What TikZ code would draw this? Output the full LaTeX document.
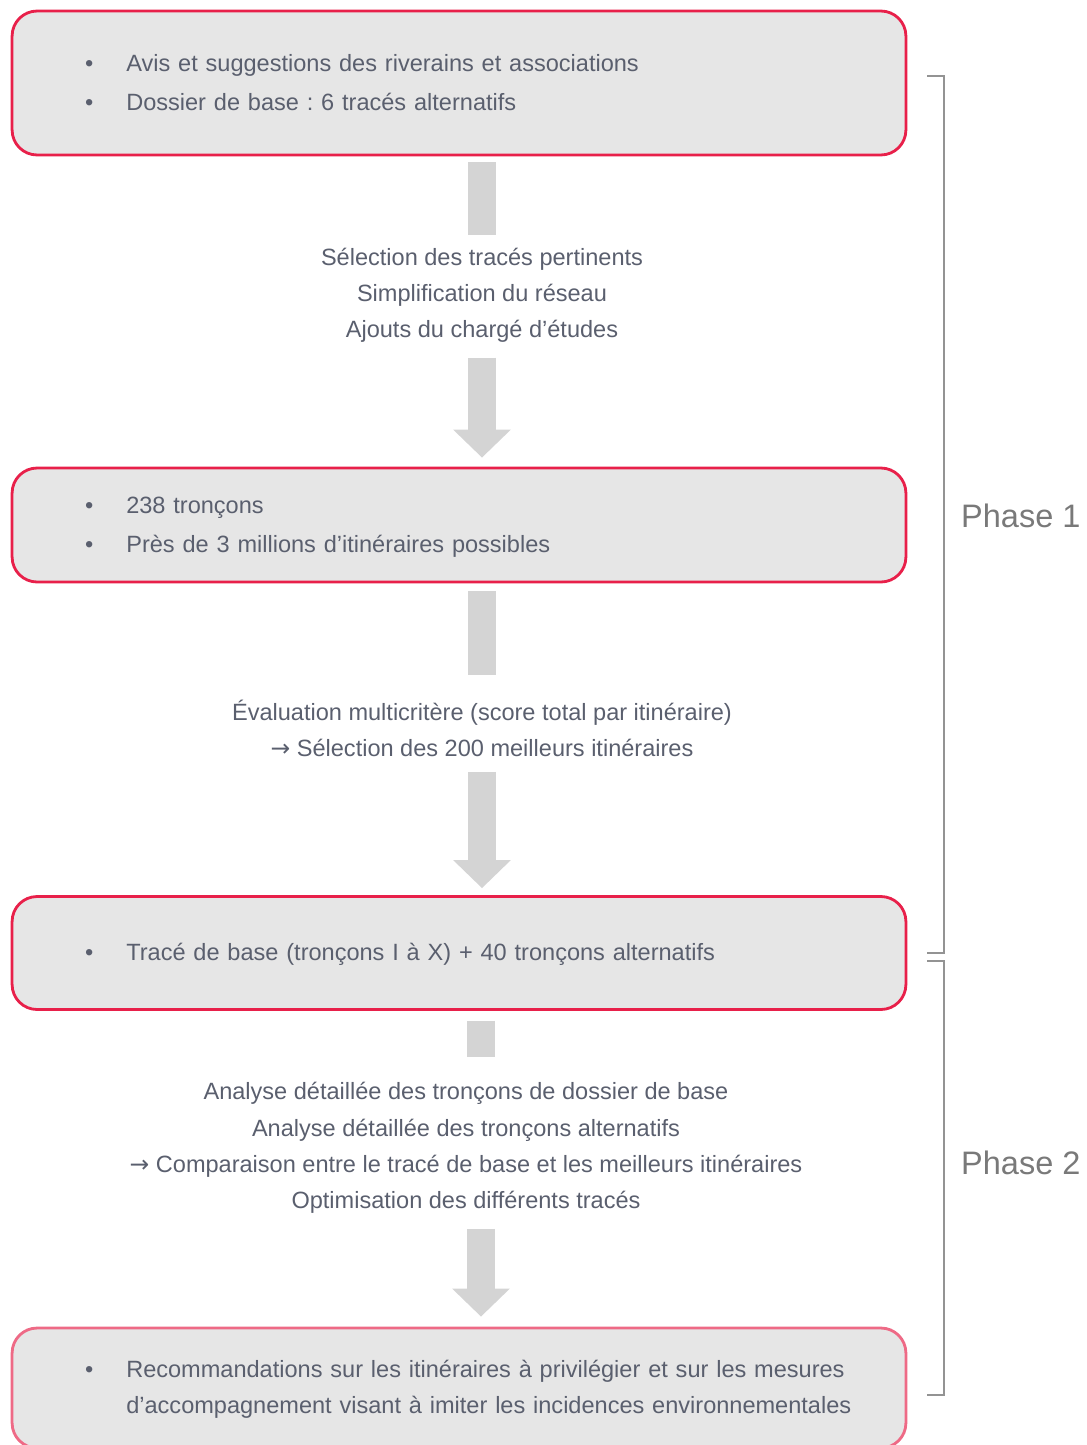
\documentclass[tikz,border=0pt]{standalone}
\usepackage{fontspec}
\setmainfont{Liberation Sans}
\newfontfamily\arrowfont{DejaVu Sans}
\usetikzlibrary{arrows.meta}
\frenchspacing
\definecolor{boxred}{HTML}{E8204A}
\definecolor{boxpink}{HTML}{EE6A86}
\definecolor{boxfill}{HTML}{E6E6E6}
\definecolor{txtgray}{HTML}{5A5F6E}
\definecolor{arrowgray}{HTML}{D4D4D4}
\newcommand{\thenarrow}{{\arrowfont →}}
\tikzset{
  stagebox/.style={draw=boxred, line width=1.6pt, fill=boxfill, rounded corners=0.5cm,
    minimum width=17.88cm, inner xsep=1.46cm, text width=14.96cm, align=left,
    font=\fontsize{13.4}{22}\selectfont, text=txtgray},
  steptext/.style={align=center, inner sep=0pt, text=txtgray,
    font=\fontsize{13.4}{20.6}\selectfont},
  stem/.style={arrowgray, line width=0.56cm},
  stemhead/.style={stem, -{Triangle[width=1.12cm,length=0.56cm]}},
  phasebrace/.style={draw=gray!85, line width=1.1pt},
  phaselabel/.style={anchor=west, text=gray!95!black, font=\fontsize{18.5}{20}\selectfont}
}
\begin{document}
\begin{tikzpicture}[x=0.02cm,y=-0.02cm]
\useasboundingbox (0,0) rectangle (1087,1445);
\node[stagebox, minimum height=2.88cm] (b1) at (459,83) {\begin{tabular}{@{}l@{\hspace{0.66cm}}l@{}}
\textbullet & Avis et suggestions des riverains et associations\\
\textbullet & Dossier de base : 6 tracés alternatifs\end{tabular}};
\node[stagebox, minimum height=2.28cm] (b2) at (459,525) {\begin{tabular}{@{}l@{\hspace{0.66cm}}l@{}}
\textbullet & 238 tronçons\\
\textbullet & Près de 3 millions d’itinéraires possibles\end{tabular}};
\node[stagebox, minimum height=2.26cm] (b3) at (459,953) {\begin{tabular}{@{}l@{\hspace{0.66cm}}l@{}}
\textbullet & Tracé de base (tronçons I à X) + 40 tronçons alternatifs\end{tabular}};
\node[stagebox, draw=boxpink, minimum height=2.4cm,
  font=\fontsize{13.4}{20.6}\selectfont] (b4) at (459,1388) {\begin{tabular}{@{}l@{\hspace{0.66cm}}l@{}}
\textbullet & Recommandations sur les itinéraires à privilégier et sur les mesures\\
 & d’accompagnement visant à imiter les incidences environnementales\end{tabular}};

\node[steptext] (t1) at (482,295) {Sélection des tracés pertinents\\Simplification du réseau\\Ajouts du chargé d’études};
\node[steptext] (t2) at (482,728) {Évaluation multicritère (score total par itinéraire)\\\thenarrow\ Sélection des 200 meilleurs itinéraires};
\node[steptext] (t3) at (466,1148) {Analyse détaillée des tronçons de dossier de base\\Analyse détaillée des tronçons alternatifs\\\thenarrow\ Comparaison entre le tracé de base et les meilleurs itinéraires\\Optimisation des différents tracés};

\draw[stem, shorten <=0.12cm, shorten >=0.24cm] (b1.south -| t1) -- (t1.north);
\draw[stemhead, shorten <=0.3cm, shorten >=0.18cm] (t1.south) -- (b2.north -| t1);
\draw[stem, shorten <=0.16cm, shorten >=0.48cm] (b2.south -| t2) -- (t2.north);
\draw[stemhead, shorten <=0.3cm, shorten >=0.14cm] (t2.south) -- (b3.north -| t2);
\draw[stem, shorten <=0.2cm, shorten >=0.5cm] ([xshift=0.3cm]b3.south -| t3) -- ([xshift=0.3cm]t3.north);
\draw[stemhead, shorten <=0.3cm, shorten >=0.2cm] ([xshift=0.3cm]t3.south) -- ([xshift=0.3cm]b4.north -| t3);

\coordinate (p1top) at (944,76);
\coordinate (p1bot) at (944,953);
\coordinate (p2top) at (944,961);
\coordinate (p2bot) at (944,1395);
\draw[phasebrace] ([xshift=-0.34cm]p1top) -- (p1top) -- (p1bot) -- ([xshift=-0.34cm]p1bot);
\draw[phasebrace] ([xshift=-0.34cm]p2top) -- (p2top) -- (p2bot) -- ([xshift=-0.34cm]p2bot);
\node[phaselabel] (ph1) at (955,516) {Phase 1};
\node[phaselabel] (ph2) at (955,1163) {Phase 2};
\end{tikzpicture}
\end{document}
